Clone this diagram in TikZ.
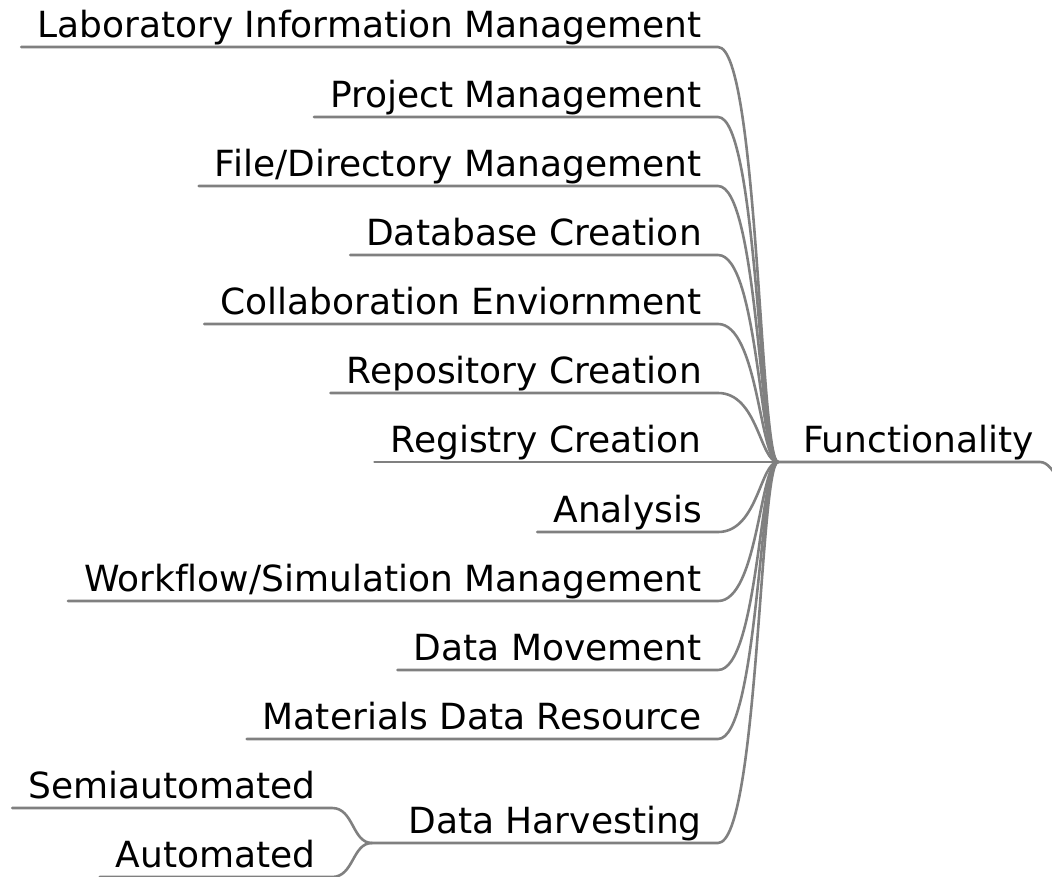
\documentclass[tikz,border=0pt]{standalone}
\usepackage{fontspec}
\setmainfont[Ligatures=NoCommon]{DejaVu Sans}
\definecolor{branchgray}{RGB}{128,128,128}
\begin{document}
\begin{tikzpicture}[x=1pt,y=-1pt,
    leaf/.style={anchor=south east,inner xsep=16pt,inner ysep=9pt,text depth=0pt,font=\fontsize{36}{40}\selectfont},
    root/.style={leaf,anchor=south west,inner xsep=25pt},
    branch/.style={draw=branchgray,line width=2.6pt,line cap=round}]
      \useasboundingbox (0,0) rectangle (1052,877);

      \node[leaf] (lims) at (718,47) {Laboratory Information Management};
      \node[leaf] (proj) at (718,117) {Project Management};
      \node[leaf] (file) at (718,186) {File/Directory Management};
      \node[leaf] (dbase) at (718,255) {Database Creation};
      \node[leaf] (collab) at (718,324) {Collaboration Enviornment};
      \node[leaf] (repo) at (718,393) {Repository Creation};
      \node[leaf] (regis) at (718,462) {Registry Creation};
      \node[leaf] (analysis) at (718,532) {Analysis};
      \node[leaf] (flow) at (718,601) {Workflow/Simulation Management};
      \node[leaf] (move) at (718,670) {Data Movement};
      \node[leaf] (mdr) at (718,739) {Materials Data Resource};
      \node[leaf] (harvest) at (718,843) {Data Harvesting};
      \node[leaf] (semi) at (332,808) {Semiautomated};
      \node[leaf] (auto) at (332,877) {Automated};

      \node[root] (func) at (778,462) {Functionality};
      \coordinate (fork) at (372,843);
      \coordinate (rim) at (1040,462);
      \coordinate (off) at (1060,482);

      \foreach \n in {lims,proj,file,dbase,collab,repo,regis,analysis,flow,move,mdr}
        \draw[branch] (\n.south west) -- (\n.south east) .. controls +(40,0) and +(-18,0) .. (func.south west);
      \draw[branch] (fork) -- (harvest.south east) .. controls +(40,0) and +(-18,0) .. (func.south west);

      \foreach \n in {semi,auto}
        \draw[branch] (\n.south west) -- (\n.south east) .. controls +(22,0) and +(-20,0) .. (fork);

      \draw[branch] (func.south west) -- (rim) .. controls +(8,0) and +(-6,-10) .. (off);
    \end{tikzpicture}
\end{document}
